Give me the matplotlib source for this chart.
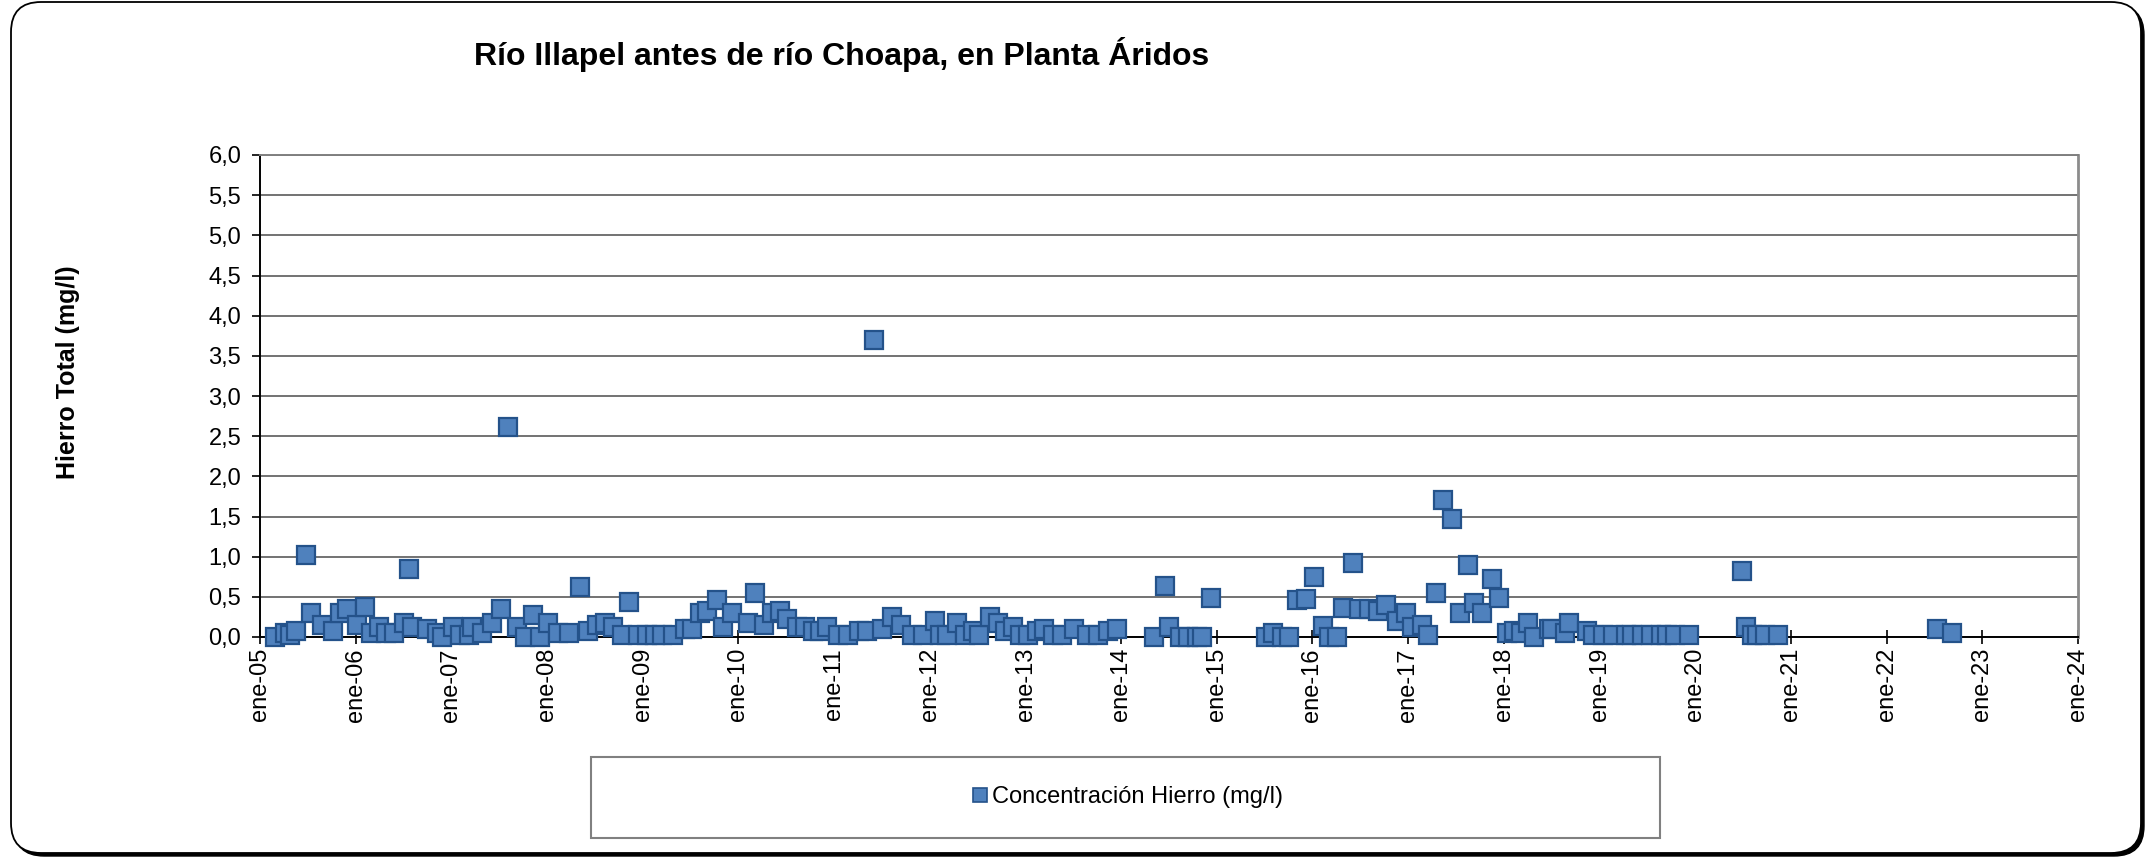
import matplotlib
matplotlib.use("Agg")
import matplotlib.pyplot as plt
import pandas as pd
from matplotlib.patches import FancyBboxPatch, Rectangle
from matplotlib.lines import Line2D
from matplotlib.transforms import IdentityTransform

plt.rcParams['font.family'] = ['Liberation Sans', 'DejaVu Sans']

# fechas de muestreo y hierro total (mg/l)
fechas = [
    '2005-03-01', '2005-04-05', '2005-04-24', '2005-05-20', '2005-06-24', '2005-07-16',
    '2005-08-24', '2005-10-05', '2005-11-02', '2005-11-28', '2006-01-06', '2006-02-06',
    '2006-03-02', '2006-04-02', '2006-04-28', '2006-05-28', '2006-07-03', '2006-07-25',
    '2006-08-06', '2006-09-29', '2006-11-07', '2006-11-25', '2007-01-07', '2007-02-03',
    '2007-03-11', '2007-03-22', '2007-04-29', '2007-06-07', '2007-07-11', '2007-08-04',
    '2007-09-08', '2007-10-08', '2007-11-08', '2007-12-04', '2008-01-04', '2008-02-12',
    '2008-03-27', '2008-05-05', '2008-06-05', '2008-07-09', '2008-08-09', '2008-09-09',
    '2008-10-13', '2008-11-09', '2008-12-13', '2009-01-17', '2009-02-17', '2009-03-17',
    '2009-04-25', '2009-06-10', '2009-07-06', '2009-08-06', '2009-09-02', '2009-10-10',
    '2009-11-03', '2009-12-06', '2010-02-06', '2010-03-06', '2010-04-10', '2010-05-10',
    '2010-06-07', '2010-07-07', '2010-08-11', '2010-09-11', '2010-10-11', '2010-11-07',
    '2010-12-07', '2011-01-15', '2011-02-22', '2011-04-08', '2011-05-08', '2011-06-04',
    '2011-07-04', '2011-08-12', '2011-09-12', '2011-10-27', '2011-12-05', '2012-01-20',
    '2012-02-09', '2012-03-09', '2012-04-13', '2012-05-13', '2012-06-13', '2012-07-09',
    '2012-08-17', '2012-09-17', '2012-10-13', '2012-11-13', '2012-12-10', '2013-01-10',
    '2013-02-13', '2013-03-13', '2013-04-14', '2013-05-21', '2013-07-06', '2013-08-22',
    '2013-10-03', '2013-11-11', '2013-12-15', '2014-05-08', '2014-06-19', '2014-07-04',
    '2014-08-12', '2014-09-12', '2014-10-16', '2014-11-04', '2014-12-08', '2015-07-09',
    '2015-08-05', '2015-09-05', '2015-10-05', '2015-11-02', '2015-12-06', '2016-01-06',
    '2016-02-10', '2016-03-06', '2016-04-02', '2016-04-28', '2016-06-02', '2016-06-28',
    '2016-08-03', '2016-09-07', '2016-10-07', '2016-11-18', '2016-12-22', '2017-01-14',
    '2017-02-22', '2017-03-18', '2017-04-18', '2017-05-14', '2017-06-15', '2017-07-19',
    '2017-08-15', '2017-09-08', '2017-10-08', '2017-11-15', '2017-12-12', '2018-01-12',
    '2018-02-08', '2018-03-08', '2018-04-04', '2018-04-27', '2018-06-23', '2018-07-04',
    '2018-08-23', '2018-09-05', '2018-11-13', '2018-12-05', '2019-01-13', '2019-02-21',
    '2019-04-13', '2019-05-06', '2019-06-13', '2019-07-17', '2019-08-25', '2019-09-14',
    '2019-10-14', '2019-12-10', '2020-06-26', '2020-07-11', '2020-08-03', '2020-08-22',
    '2020-09-22', '2020-11-11', '2022-07-13', '2022-09-06',
]
hierro = [
    0.00, 0.05, 0.02, 0.07, 1.02, 0.30,
    0.15, 0.07, 0.30, 0.35, 0.15, 0.37,
    0.05, 0.12, 0.05, 0.05, 0.17, 0.85,
    0.12, 0.10, 0.05, 0.00, 0.12, 0.02,
    0.02, 0.13, 0.05, 0.17, 0.35, 2.62,
    0.12, 0.00, 0.27, 0.00, 0.17, 0.05,
    0.05, 0.62, 0.07, 0.15, 0.17, 0.12,
    0.02, 0.44, 0.02, 0.02, 0.02, 0.02,
    0.02, 0.10, 0.10, 0.30, 0.32, 0.46,
    0.12, 0.30, 0.17, 0.55, 0.15, 0.30,
    0.32, 0.23, 0.12, 0.12, 0.07, 0.07,
    0.12, 0.03, 0.02, 0.07, 0.08, 3.70,
    0.10, 0.25, 0.15, 0.02, 0.03, 0.20,
    0.02, 0.02, 0.18, 0.02, 0.08, 0.02,
    0.25, 0.18, 0.07, 0.13, 0.02, 0.02,
    0.08, 0.10, 0.02, 0.02, 0.10, 0.02,
    0.02, 0.08, 0.10, 0.00, 0.63, 0.13,
    0.00, 0.00, 0.00, 0.00, 0.48, 0.00,
    0.05, 0.00, 0.00, 0.46, 0.47, 0.75,
    0.14, 0.00, 0.00, 0.36, 0.92, 0.35,
    0.35, 0.32, 0.40, 0.20, 0.30, 0.13,
    0.15, 0.02, 0.55, 1.70, 1.47, 0.30,
    0.90, 0.42, 0.30, 0.72, 0.48, 0.05,
    0.08, 0.05, 0.17, 0.00, 0.10, 0.10,
    0.05, 0.18, 0.08, 0.02, 0.02, 0.02,
    0.02, 0.02, 0.02, 0.02, 0.02, 0.02,
    0.02, 0.02, 0.82, 0.13, 0.02, 0.02,
    0.02, 0.02, 0.10, 0.05,
]

anios = list(range(2005, 2025))
etiquetas_x = ['ene-%02d' % (a % 100) for a in anios]
y_ticks = [0, 0.5, 1, 1.5, 2, 2.5, 3, 3.5, 4, 4.5, 5, 5.5, 6]
y_etiquetas = ['0,0', '0,5', '1,0', '1,5', '2,0', '2,5', '3,0', '3,5', '4,0', '4,5', '5,0', '5,5', '6,0']

W, H = 2148, 857
fig = plt.figure(figsize=(W / 100, H / 100), dpi=100)

# marco redondeado del grafico (con sombra abajo/derecha), detras de los ejes
fig.add_artist(FancyBboxPatch((14, 1), 2130, 851, boxstyle='round,pad=0,rounding_size=30',
                              transform=IdentityTransform(), fc='black', ec='black', lw=1,
                              zorder=-3))
fig.add_artist(FancyBboxPatch((11, 4), 2130, 851, boxstyle='round,pad=0,rounding_size=30',
                              transform=IdentityTransform(), fc='white', ec='black', lw=1.3,
                              zorder=-2))

ax = fig.add_axes([260 / W, 1 - 637 / H, (2078 - 260) / W, (637 - 155) / H])
ax.set_facecolor('none')

x = pd.to_datetime(fechas)
ax.plot(x, hierro, ls='none', marker='s', ms=13.5, mfc='#4F81BD', mec='#24528A',
        mew=1.6, clip_on=False, zorder=5)

ax.set_xlim(pd.Timestamp('2005-01-01'), pd.Timestamp('2024-01-01'))
ax.set_xticks([pd.Timestamp('%d-01-01' % a) for a in anios])
ax.set_xticklabels(etiquetas_x, rotation=90, fontsize=17)
ax.set_ylim(0, 6)
ax.set_yticks(y_ticks)
ax.set_yticklabels(y_etiquetas, fontsize=17)

ax.grid(axis='y', color='#5a5a5a', lw=1.2)
ax.set_axisbelow(True)
ax.tick_params(axis='x', direction='inout', length=10, width=1.2, pad=3, color='black')
ax.tick_params(axis='y', direction='out', length=5.5, width=1.2, pad=8)
ax.spines['left'].set_color('black')
ax.spines['left'].set_linewidth(1.4)
ax.spines['bottom'].set_color('black')
ax.spines['bottom'].set_linewidth(1.4)
ax.spines['top'].set_color('#808080')
ax.spines['top'].set_linewidth(1.4)
ax.spines['right'].set_color('#8c8c8c')
ax.spines['right'].set_linewidth(2)

fig.text(842 / W, 1 - 55 / H, 'Río Illapel antes de río Choapa, en Planta Áridos',
         ha='center', va='center', fontsize=23, fontweight='bold')
fig.text(68 / W, 1 - 372 / H, 'Hierro Total (mg/l)', rotation=90,
         ha='center', va='center', fontsize=18, fontweight='bold')

# recuadro de la leyenda
fig.add_artist(Rectangle((591, 19), 1069, 81, transform=IdentityTransform(),
                         fc='white', ec='#808080', lw=1.5, zorder=-1))
marca = Line2D([], [], ls='none', marker='s', ms=10, mfc='#4F81BD', mec='#24528A', mew=1.2)
fig.legend(handles=[marca], labels=['Concentración Hierro (mg/l)'], loc='center',
           bbox_to_anchor=(1127 / W, 1 - 797 / H), frameon=False, fontsize=17,
           handletextpad=0.1, handlelength=0.8)

fig.savefig('out.png', dpi=100)
